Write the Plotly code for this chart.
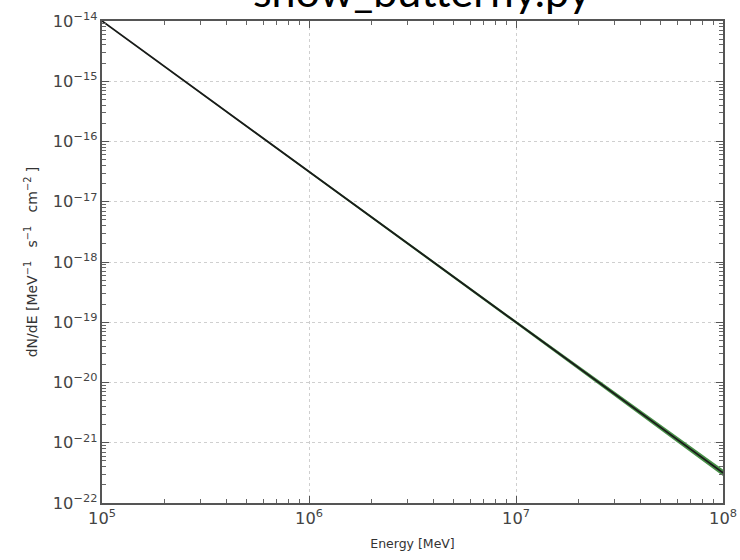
import plotly.graph_objects as go

# Data
energy = [1e5, 1e6, 1e7, 1e8]                      # MeV
flux = [1.0e-14, 3.16e-17, 1.0e-19, 3.16e-22]      # dN/dE
flux_upper = [1.02e-14, 3.25e-17, 1.06e-19, 3.60e-22]
flux_lower = [0.98e-14, 3.08e-17, 0.94e-19, 2.80e-22]
title_text = "show_butterfly.py"
x_label = "Energy [MeV]"
y_label = "dN/dE [MeV<sup>−1</sup>   s<sup>−1</sup>   cm<sup>−2</sup> ]"

fig = go.Figure()
fig.add_trace(go.Scatter(x=energy, y=flux_upper, mode="lines",
                         line=dict(color="rgba(0,0,0,0)", width=0),
                         showlegend=False, hoverinfo="skip"))
fig.add_trace(go.Scatter(x=energy, y=flux_lower, mode="lines",
                         line=dict(color="rgba(30,120,30,0.9)", width=0),
                         fill="tonexty", fillcolor="rgba(40,125,40,0.85)",
                         showlegend=False, hoverinfo="skip"))
fig.add_trace(go.Scatter(x=energy, y=flux, mode="lines",
                         line=dict(color="#1a1a1a", width=1.8),
                         showlegend=False))

axis_common = dict(
    type="log", showline=True, linecolor="#555", linewidth=2, mirror="ticks",
    ticks="inside", ticklen=7, tickcolor="#555", tickwidth=1,
    showgrid=True, gridcolor="#cfcfcf", griddash="dot", gridwidth=1,
    zeroline=False, exponentformat="power", dtick=1, automargin=False,
    tickfont=dict(family="DejaVu Sans", size=13, color="#444"),
    minor=dict(ticks="inside", ticklen=4, tickcolor="#666", dtick="D1", showgrid=False),
)

fig.update_xaxes(range=[5, 8],
                 title=dict(text=x_label, font=dict(family="DejaVu Sans", size=12.5, color="#333"), standoff=12),
                 **axis_common)
fig.update_yaxes(range=[-22, -14],
                 title=dict(text=y_label, font=dict(family="DejaVu Sans", size=14, color="#333"), standoff=12),
                 **axis_common)

fig.add_annotation(text=title_text, xref="paper", yref="paper", x=0.515, y=1.0,
                   yshift=31, xanchor="center", yanchor="middle", showarrow=False,
                   font=dict(family="Lato", size=43, color="black"))

fig.update_layout(
    width=740, height=560,
    margin=dict(l=102, r=17, t=21, b=57),
    paper_bgcolor="white", plot_bgcolor="white",
)

fig.write_html("out.html")
